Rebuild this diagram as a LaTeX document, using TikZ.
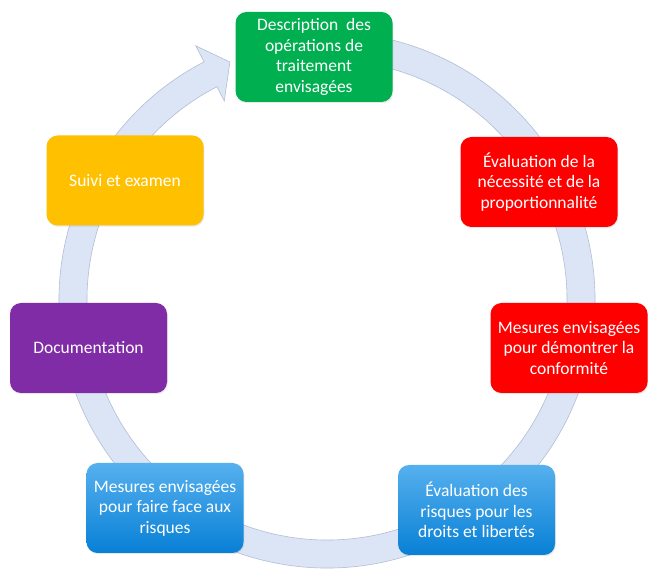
\documentclass[tikz,border=0pt]{standalone}
\usepackage{fontspec}
\setmainfont{Carlito}
\definecolor{dpia_vert}{RGB}{0, 176, 80}
\definecolor{dpia_rouge}{RGB}{255, 0, 0}
\definecolor{dpia_bleu_haut}{RGB}{86, 176, 238}
\definecolor{dpia_bleu_bas}{RGB}{8, 128, 214}
\definecolor{dpia_jaune}{RGB}{255, 192, 0}
\definecolor{dpia_violet}{RGB}{128, 44, 166}
\definecolor{dpia_anneau}{RGB}{220, 229, 246}
\definecolor{dpia_bord}{RGB}{178, 190, 212}
\usetikzlibrary{shadows}

\begin{document}
\begin{tikzpicture}[x=1pt, y=1pt,
    every node/.style={font=\fontsize{17.5}{20.5}\selectfont, text=white, align=center},
    etape/.style={rounded corners=11pt, minimum width=157pt, minimum height=90pt,
      inner sep=0pt, drop shadow={opacity=0.18, shadow xshift=0.8pt, shadow yshift=-1.2pt}},
    bleu/.style={top color=dpia_bleu_haut, bottom color=dpia_bleu_bas}]
  \useasboundingbox[fill=white] (0,0) rectangle (648,570);

  % Anneau avec flèche
  \begin{scope}[shift={(327,270)}]
    \filldraw[fill=dpia_anneau, draw=dpia_bord, line width=0.6pt]
      (80:268) arc[start angle=80, end angle=-242.7, radius=268]
      -- (117.3:286) -- (112.2:257) -- (117.3:224) -- (117.3:240)
      arc[start angle=-242.7, end angle=80, radius=240] -- cycle;
  \end{scope}

  % Etapes
  \node[etape, fill=dpia_vert] (desc) at (314,513)
    {Description\ \ des\\opérations de\\traitement\\envisagées};
  \node[etape, fill=dpia_rouge] (necess) at (539,388)
    {Évaluation de la\\nécessité et de la\\proportionnalité};
  \node[etape, fill=dpia_rouge] (conform) at (569,222)
    {Mesures envisagées\\pour démontrer la\\conformité};
  \node[etape, bleu] (risques) at (476.5,60)
    {Évaluation des\\risques pour les\\droits et libertés};
  \node[etape, bleu] (mesures) at (165,62)
    {Mesures envisagées\\pour faire face aux\\risques};
  \node[etape, fill=dpia_violet] (doc) at (88.5,222) {Documentation};
  \node[etape, fill=dpia_jaune] (suivi) at (125,389.5) {Suivi et examen};
\end{tikzpicture}
\end{document}
